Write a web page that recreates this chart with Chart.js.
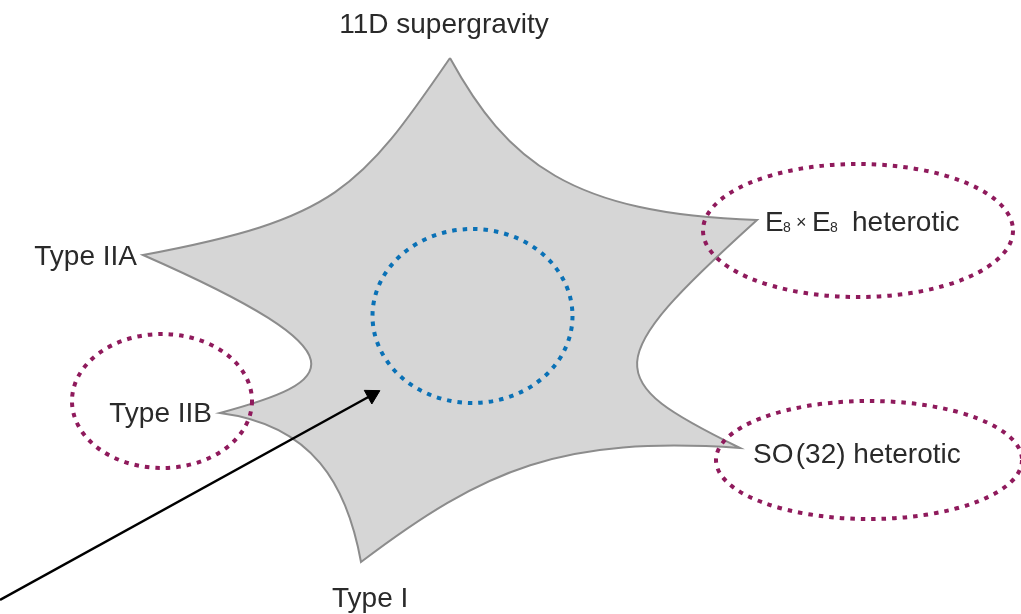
<!DOCTYPE html>
<html>
<head>
<meta charset="utf-8">
<script src="https://cdn.jsdelivr.net/npm/chart.js@4.4.1/dist/chart.umd.min.js"></script>
<style>
  html, body { margin: 0; padding: 0; background: #ffffff; }
  #wrap { width: 1021px; height: 614px; }
</style>
</head>
<body>
<div id="wrap"><canvas id="c" width="1021" height="614"></canvas></div>
<script>
// ---- Data (diagram units = image pixels) ----
// Tips of the star, clockwise from the 11D tip (first tip repeated to close the shape)
const tipNames = ["11D supergravity", "E8xE8 heterotic", "SO(32) heterotic", "Type I", "Type IIB", "Type IIA", "11D supergravity"];
const tipX = [450, 757, 740, 361, 220, 143, 450];
const tipY = [ 58, 220, 448, 562, 413, 255,  58];
// Bezier handles of each curved edge (edge k runs from tip k to tip k+1)
const edgeOutX = [507, 599, 562, 347, 335, 336];
const edgeOutY = [162, 363, 436, 485, 382, 219];
const edgeInX  = [571, 601, 485, 313, 373, 360];
const edgeInY  = [214, 380, 468, 425, 356, 189];

// Dotted ellipses: centre x, centre y, radius x, radius y
const ellipseNames = ["centre", "E8xE8", "SO32", "IIB"];
const ellipseCX = [472.5, 858, 869, 162];
const ellipseCY = [316, 230.5, 460, 401];
const ellipseRX = [100, 155, 153, 90];
const ellipseRY = [87, 66.5, 59, 67];

// Arrow from the lower-left corner into the star
const arrowX = [0, 372];
const arrowY = [600, 395];

// Labels
const labelTexts = ["11D supergravity", "Type IIA", "Type IIB", "Type I", "SO\u200A(32) heterotic"];

// ---- Layout / style (not data) ----
const labelPos = [[444, 33, "center"], [137, 265, "right"], [212, 422, "right"], [332, 607, "left"], [753, 463, "left"]];
const e8Pos = [765, 231];
const FONT = '"Liberation Sans", Arial, Helvetica, sans-serif';
const TEXT_COLOR = "#2a2a2a";
const MAGENTA = "#8f1a5c";
const BLUE = "#0a71b6";
const ellipseColors = [BLUE, MAGENTA, MAGENTA, MAGENTA];

const starPoints = tipX.map((x, i) => ({ x: x, y: tipY[i] }));
const arrowPoints = arrowX.map((x, i) => ({ x: x, y: arrowY[i] }));

// Give the star's line element the curved edges through the chart's own scales
const curvedEdgesPlugin = {
  id: "curvedEdges",
  afterUpdate(chart) {
    const meta = chart.getDatasetMeta(0);
    const line = meta.dataset;
    const xs = chart.scales.x, ys = chart.scales.y;
    line.updateControlPoints(chart.chartArea, "x");
    const pts = meta.data;
    for (let k = 0; k < edgeOutX.length; k++) {
      const a = pts[k], b = pts[k + 1];
      a.cp2x = xs.getPixelForValue(edgeOutX[k]);
      a.cp2y = ys.getPixelForValue(edgeOutY[k]);
      b.cp1x = xs.getPixelForValue(edgeInX[k]);
      b.cp1y = ys.getPixelForValue(edgeInY[k]);
    }
  }
};

const overlayPlugin = {
  id: "overlay",
  afterDatasetsDraw(chart) {
    const ctx = chart.ctx;
    const xs = chart.scales.x, ys = chart.scales.y;
    ctx.save();
    for (let i = 0; i < ellipseCX.length; i++) {
      const cx = xs.getPixelForValue(ellipseCX[i]);
      const cy = ys.getPixelForValue(ellipseCY[i]);
      const rx = Math.abs(xs.getPixelForValue(ellipseCX[i] + ellipseRX[i]) - cx);
      const ry = Math.abs(ys.getPixelForValue(ellipseCY[i] + ellipseRY[i]) - cy);
      ctx.beginPath();
      ctx.ellipse(cx, cy, rx, ry, 0, 0, Math.PI * 2);
      ctx.strokeStyle = ellipseColors[i];
      ctx.lineWidth = 4;
      ctx.lineCap = "butt";
      ctx.setLineDash([4.5, 6]);
      ctx.stroke();
    }
    ctx.restore();
  },
  afterDraw(chart) {
    const ctx = chart.ctx;
    const xs = chart.scales.x, ys = chart.scales.y;
    ctx.save();
    ctx.fillStyle = TEXT_COLOR;
    ctx.textBaseline = "alphabetic";
    ctx.font = "28px " + FONT;
    labelTexts.forEach((t, i) => {
      const p = labelPos[i];
      ctx.textAlign = p[2];
      ctx.fillText(t, xs.getPixelForValue(p[0]), ys.getPixelForValue(p[1]));
    });
    // E8 x E8 heterotic with small subscripts
    const bx = xs.getPixelForValue(e8Pos[0]);
    const by = ys.getPixelForValue(e8Pos[1]);
    ctx.textAlign = "left";
    const parts = [
      ["E", 0, 0, 28], ["8", 18, 1, 14], ["\u00d7", 31, -3, 18],
      ["E", 47, 0, 28], ["8", 65, 1, 14], ["heterotic", 87, 0, 28]
    ];
    parts.forEach(p => {
      ctx.font = p[3] + "px " + FONT;
      ctx.fillText(p[0], bx + p[1], by + p[2]);
    });
    ctx.restore();
  }
};

new Chart(document.getElementById("c"), {
  type: "scatter",
  data: {
    datasets: [
      {
        label: "moduli space",
        data: starPoints,
        showLine: true,
        tension: 0.4,
        fill: "shape",
        backgroundColor: "#d6d6d6",
        borderColor: "#8c8c8c",
        borderWidth: 2,
        borderJoinStyle: "miter",
        pointRadius: 0,
        order: 2
      },
      {
        label: "arrow",
        data: arrowPoints,
        showLine: true,
        fill: false,
        borderColor: "#000000",
        borderWidth: 2.5,
        backgroundColor: "#000000",
        pointBackgroundColor: "#000000",
        pointBorderColor: "#000000",
        pointStyle: "triangle",
        pointRadius: [0, 9],
        pointRotation: [0, 61],
        pointBorderWidth: 1,
        order: 1
      }
    ]
  },
  options: {
    responsive: false,
    devicePixelRatio: 1,
    animation: false,
    events: [],
    layout: { padding: 0, autoPadding: false },
    plugins: { legend: { display: false }, tooltip: { enabled: false }, title: { display: false } },
    scales: {
      x: { type: "linear", min: 0, max: 1021, display: false },
      y: { type: "linear", min: 0, max: 614, reverse: true, display: false }
    }
  },
  plugins: [curvedEdgesPlugin, overlayPlugin]
});
</script>
</body>
</html>
